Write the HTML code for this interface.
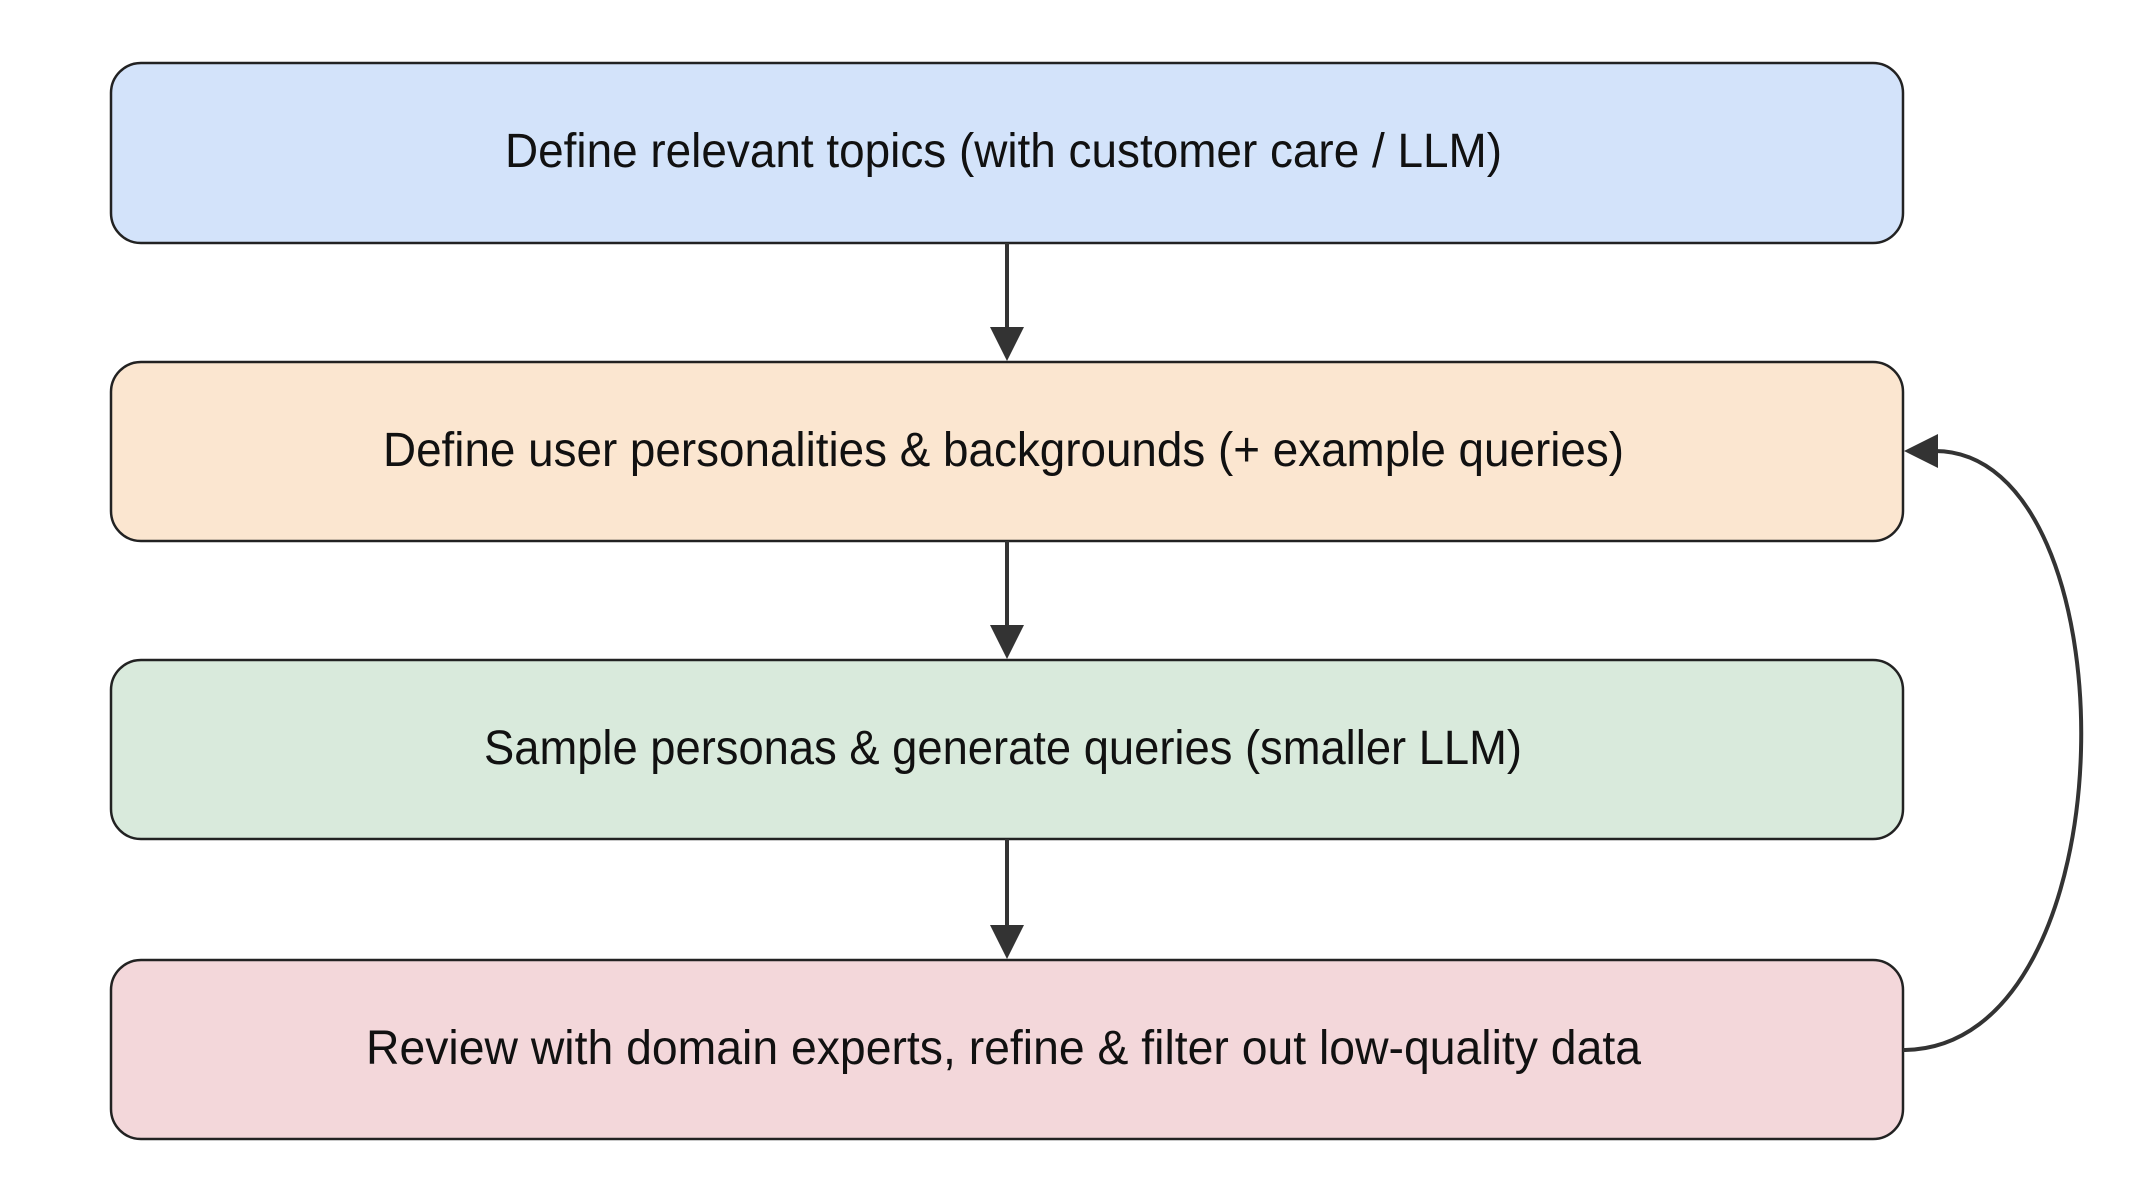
<!DOCTYPE html>
<html><head><style>html,body{margin:0;padding:0;background:#fff;width:2150px;height:1198px;overflow:hidden}</style></head>
<body>
<svg width="2150" height="1198" viewBox="0 0 2150 1198" xmlns="http://www.w3.org/2000/svg" font-family="'Liberation Sans', sans-serif" font-size="48" fill="#111">
<g stroke="#222" stroke-width="2.5">
<rect x="111" y="63" width="1792" height="180" rx="30" fill="#d3e3fa"/>
<rect x="111" y="362" width="1792" height="179" rx="30" fill="#fbe6d0"/>
<rect x="111" y="660" width="1792" height="179" rx="30" fill="#d9eadc"/>
<rect x="111" y="960" width="1792" height="179" rx="30" fill="#f3d7da"/>
</g>
<g stroke="#333" stroke-width="4" fill="none">
<line x1="1007" y1="243" x2="1007" y2="330"/>
<line x1="1007" y1="541" x2="1007" y2="628"/>
<line x1="1007" y1="839" x2="1007" y2="927"/>
<path d="M1903,1050 C2135,1050 2135,451 1935,451"/>
</g>
<g fill="#333">
<polygon points="990,327 1024,327 1007,361"/>
<polygon points="990,625 1024,625 1007,659"/>
<polygon points="990,925 1024,925 1007,959"/>
<polygon points="1904,451 1938,434 1938,468"/>
</g>
<text x="505" y="167" textLength="997" lengthAdjust="spacingAndGlyphs">Define relevant topics (with customer care / LLM)</text>
<text x="383" y="466" textLength="1241" lengthAdjust="spacingAndGlyphs">Define user personalities &amp; backgrounds (+ example queries)</text>
<text x="484" y="764" textLength="1038" lengthAdjust="spacingAndGlyphs">Sample personas &amp; generate queries (smaller LLM)</text>
<text x="366" y="1064" textLength="1275" lengthAdjust="spacingAndGlyphs">Review with domain experts, refine &amp; filter out low-quality data</text>
</svg>
</body></html>
